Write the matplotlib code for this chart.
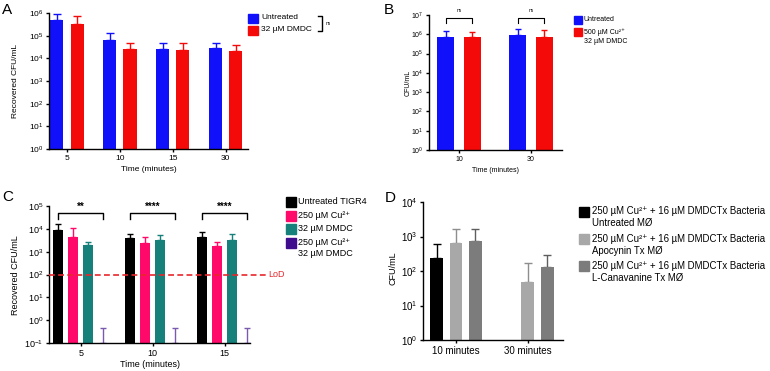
import numpy as np
import matplotlib
matplotlib.use('Agg')
import matplotlib.pyplot as plt
from matplotlib.patches import Rectangle
from matplotlib.ticker import LogLocator, LogFormatterMathtext, NullLocator

plt.rcParams['font.family'] = ['Liberation Sans', 'DejaVu Sans']
plt.rcParams['mathtext.fontset'] = 'custom'
plt.rcParams['mathtext.rm'] = 'Liberation Sans'
plt.rcParams['mathtext.it'] = 'Liberation Sans:italic'
plt.rcParams['mathtext.bf'] = 'Liberation Sans:bold'

# ---- data ----
# A
times_a = ['5', '10', '15', '30']
untreated_a = [5.0e5, 6.2e4, 2.6e4, 3.0e4]
untreated_a_sd = [4.0e5, 6.8e4, 2.1e4, 1.7e4]
dmdc_a = [3.4e5, 2.6e4, 2.4e4, 2.1e4]
dmdc_a_sd = [4.2e5, 2.1e4, 2.3e4, 1.7e4]
labels_a = ['Untreated', '32 µM DMDC']

# B
times_b = ['10', '30']
untreated_b = [7.0e5, 9.0e5]
untreated_b_sd = [7.0e5, 9.0e5]
cu_dmdc_b = [7.6e5, 7.6e5]
cu_dmdc_b_sd = [5.0e5, 1.0e6]
labels_b = ['Untreated', '500 µM Cu²⁺\n32 µM DMDC']
sig_b = ['ns', 'ns']

# C
times_c = ['5', '10', '15']
untreated_c = [8.7e3, 3.8e3, 4.6e3]
untreated_c_sd = [8.3e3, 2.1e3, 3.0e3]
cu_c = [4.5e3, 2.5e3, 1.7e3]
cu_c_sd = [6.5e3, 1.8e3, 0.9e3]
dmdc_c = [1.9e3, 3.3e3, 3.4e3]
dmdc_c_sd = [0.7e3, 2.3e3, 2.4e3]
cu_dmdc_c = [0.105, 0.105, 0.105]
cu_dmdc_c_sd = [0.35, 0.35, 0.35]
labels_c = ['Untreated TIGR4', '250 µM Cu²⁺', '32 µM DMDC',
            '250 µM Cu²⁺\n32 µM DMDC']
sig_c = ['**', '****', '****']
lod_c = 100

# D
groups_d = ['10 minutes', '30 minutes']
untreated_mo = [246, np.nan]
untreated_mo_sd = [350, np.nan]
apocynin_mo = [670, 47]
apocynin_mo_sd = [1030, 118]
canavanine_mo = [740, 130]
canavanine_mo_sd = [960, 160]
labels_d = ['250 µM Cu²⁺ + 16 µM DMDCTx Bacteria\nUntreated MØ',
            '250 µM Cu²⁺ + 16 µM DMDCTx Bacteria\nApocynin Tx MØ',
            '250 µM Cu²⁺ + 16 µM DMDCTx Bacteria\nL-Canavanine Tx MØ']

BLUE, RED = '#1010FA', '#F50A0A'
PINK, TEAL, PURPLE = '#FF0A6A', '#16817A', '#3E0C8C'
LGRAY, DGRAY = '#A8A8A8', '#7C7C7C'

W, H = 770, 371
fig = plt.figure(figsize=(W / 100, H / 100), dpi=100)


def add_ax(l, r, t, b):
    return fig.add_axes([l / W, 1 - b / H, (r - l) / W, (b - t) / H])


def style(ax, fs, ylim):
    ax.set_yscale('log')
    ax.set_ylim(*ylim)
    for s in ('top', 'right'):
        ax.spines[s].set_visible(False)
    for s in ('left', 'bottom'):
        ax.spines[s].set_linewidth(1.0)
    ax.tick_params(labelsize=fs, length=2.5, width=1, pad=1.5)
    ax.yaxis.set_major_locator(LogLocator(base=10, subs=(1.0,), numticks=20))
    ax.yaxis.set_minor_locator(NullLocator())
    ax.yaxis.set_major_formatter(LogFormatterMathtext())


def bars(ax, x, vals, sd, color, width, ecolor=None, capsize=3):
    vals = np.array(vals, dtype=float)
    low = ax.get_ylim()[0]
    ax.bar(x, vals - low, bottom=low, width=width, color=color, zorder=2)
    sd = np.array(sd, dtype=float)
    ax.errorbar(x, vals, yerr=[np.zeros_like(sd), sd], fmt='none',
                ecolor=ecolor or color, elinewidth=1, capsize=capsize,
                capthick=1, zorder=1)


def legend(x, y, colors, labels, fs, step, box=10, gap=3, ls=1.2):
    # y is the centre of the first row (pixels from the top)
    for i, (c, lab) in enumerate(zip(colors, labels)):
        yy = y + i * step
        fig.patches.append(Rectangle((x / W, 1 - (yy + box / 2) / H), box / W, box / H,
                                     transform=fig.transFigure, color=c))
        fig.text((x + box + gap) / W, 1 - (yy - fs * 0.75) / H, lab,
                 fontsize=fs, va='top', ha='left', linespacing=ls)


def ylabel(text, px, py, fs):
    fig.text(px / W, 1 - py / H, text, rotation=90, fontsize=fs,
             ha='center', va='center')


# ---------------- A ----------------
axA = add_ax(49, 248, 13, 149)
style(axA, 6, (1, 1e6))
xa = np.arange(len(times_a))
axA.set_xlim(-0.34, 3.42)
bars(axA, xa - 0.19, untreated_a, untreated_a_sd, BLUE, 0.247)
bars(axA, xa + 0.19, dmdc_a, dmdc_a_sd, RED, 0.247)
axA.set_xticks(xa, times_a)
axA.set_xlabel('Time (minutes)', fontsize=6, labelpad=3)
ylabel('Recovered CFU/mL', 15.5, 81, 6)
legend(248, 18.3, [BLUE, RED], labels_a, 6, 12.4, box=9.5, gap=3.5)
fig.add_artist(plt.Line2D(np.array([318, 322, 322, 318]) / W,
                          1 - np.array([16, 16, 31, 31]) / H, color='k', lw=1))
fig.text(326 / W, 1 - 23.5 / H, 'ns', fontsize=3.5, va='center')

# ---------------- B ----------------
axB = add_ax(429, 562, 15, 150)
style(axB, 5, (1, 1e7))
xb = np.arange(len(times_b))
axB.set_xlim(-0.42, 1.43)
bars(axB, xb - 0.184, untreated_b, untreated_b_sd, BLUE, 0.236, capsize=2.5)
bars(axB, xb + 0.184, cu_dmdc_b, cu_dmdc_b_sd, RED, 0.236, capsize=2.5)
axB.set_xticks(xb, times_b)
axB.set_xlabel('Time (minutes)', fontsize=5, labelpad=3)
ylabel('CFU/mL', 408.5, 83, 5)
trB = axB.get_xaxis_transform()
for i, s in enumerate(sig_b):
    axB.plot([i - 0.184, i - 0.184, i + 0.184, i + 0.184], [0.94, 0.98, 0.98, 0.94],
             color='k', lw=0.8, transform=trB, clip_on=False)
    axB.text(i, 1.015, s, fontsize=3.5, ha='center', va='bottom', transform=trB)
legend(574, 20, [BLUE, RED], labels_b, 5, 12, box=8, gap=2, ls=1.35)

# ---------------- C ----------------
axC = add_ax(49, 250, 206, 343)
style(axC, 6.5, (0.1, 1e5))
xc = np.arange(len(times_c))
axC.set_xlim(-0.44, 2.35)
dx = 0.208
wc = 0.139
bars(axC, xc - 1.5 * dx, untreated_c, untreated_c_sd, 'black', wc, capsize=2.5)
bars(axC, xc - 0.5 * dx, cu_c, cu_c_sd, PINK, wc, capsize=2.5)
bars(axC, xc + 0.5 * dx, dmdc_c, dmdc_c_sd, TEAL, wc, capsize=2.5)
bars(axC, xc + 1.5 * dx, cu_dmdc_c, cu_dmdc_c_sd, PURPLE, wc, ecolor='#7A5AAE', capsize=2.5)
axC.set_xticks(xc, times_c)
axC.set_xlabel('Time (minutes)', fontsize=6.5, labelpad=2)
ylabel('Recovered CFU/mL', 15.5, 275, 6.5)
axC.axhline(lod_c, xmin=0, xmax=(267 - 49) / (250 - 49), color='#E8262B',
            lw=1.2, ls=(0, (3.5, 2)), clip_on=False, zorder=3)
axC.text(2.35 + (268 - 250) / 72, lod_c, 'LoD', color='#E8262B', fontsize=6.5,
         va='center', ha='left')
trC = axC.get_xaxis_transform()
for i, s in enumerate(sig_c):
    x0, x1 = i - 1.5 * dx, i + 1.5 * dx
    axC.plot([x0, x0, x1, x1], [0.905, 0.95, 0.95, 0.905], color='k', lw=1,
             transform=trC, clip_on=False)
    axC.text(i, 0.955, s, fontsize=7, fontweight='bold', ha='center',
             va='bottom', transform=trC)
legend(286, 202, ['black', PINK, TEAL, PURPLE], labels_c, 6.5, 13.6, box=10, gap=2.5,
       ls=1.3)

# ---------------- D ----------------
axD = add_ax(423, 563, 202, 340)
style(axD, 7, (1, 1e4))
xd = np.arange(len(groups_d))
axD.set_xlim(-0.46, 1.49)
dd = 0.27
wd = 0.18
bars(axD, xd - dd, untreated_mo, untreated_mo_sd, 'black', wd)
bars(axD, xd, apocynin_mo, apocynin_mo_sd, LGRAY, wd, ecolor='#8E8E8E')
bars(axD, xd + dd, canavanine_mo, canavanine_mo_sd, DGRAY, wd, ecolor='#5E5E5E')
axD.set_xticks(xd, groups_d)
ylabel('CFU/mL', 393.5, 268, 6.5)
legend(579, 211.5, ['black', LGRAY, DGRAY], labels_d, 6.9, 27.2, box=10, gap=3, ls=1.25)

# panel letters
for lab, px, py in [('A', 2, 3), ('B', 384, 3), ('C', 2, 190), ('D', 385, 191)]:
    fig.text(px / W, 1 - py / H, lab, fontsize=11, ha='left', va='top')

fig.savefig('out.png', dpi=100)
